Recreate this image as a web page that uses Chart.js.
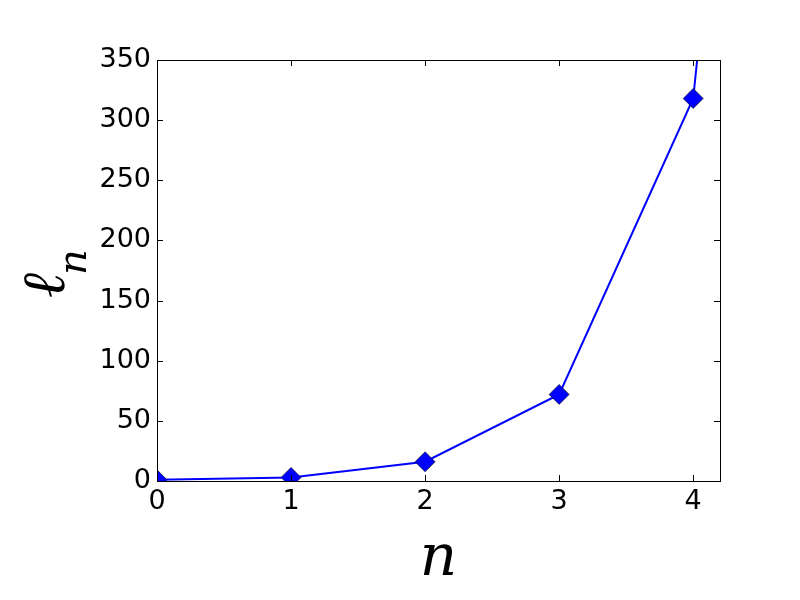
<!DOCTYPE html>
<html>
<head>
<meta charset="utf-8">
<script src="https://cdn.jsdelivr.net/npm/chart.js@4.4.0/dist/chart.umd.min.js"></script>
<style>
  html, body { margin: 0; padding: 0; background: #ffffff; }
  #wrap { width: 800px; height: 600px; }
</style>
</head>
<body>
<div id="wrap"><canvas id="lengthChart" width="800" height="600"></canvas></div>
<script>
// Data
const nValues = [0, 1, 2, 3, 4, 5];
const ellValues = [1, 3, 16, 72, 318, 1400];
const xTickValues = [0, 1, 2, 3, 4];
const yTickValues = [0, 50, 100, 150, 200, 250, 300, 350];

const tickFont = { family: 'DejaVu Sans', size: 27 };

// Frame, inward ticks on all four sides, and math-style axis titles
const matplotlibFrame = {
    id: 'matplotlibFrame',
    afterDatasetsDraw(chart) {
        const ctx = chart.ctx;
        const area = chart.chartArea;
        const xs = chart.scales.x;
        const ys = chart.scales.y;
        const tick = 6;
        ctx.save();
        ctx.strokeStyle = '#000000';
        ctx.lineWidth = 1;
        ctx.beginPath();
        xTickValues.forEach(v => {
            const px = Math.round(xs.getPixelForValue(v)) + 0.5;
            ctx.moveTo(px, area.bottom);
            ctx.lineTo(px, area.bottom - tick);
            ctx.moveTo(px, area.top);
            ctx.lineTo(px, area.top + tick);
        });
        yTickValues.forEach(v => {
            const py = Math.round(ys.getPixelForValue(v)) + 0.5;
            ctx.moveTo(area.left, py);
            ctx.lineTo(area.left + tick, py);
            ctx.moveTo(area.right, py);
            ctx.lineTo(area.right - tick, py);
        });
        ctx.stroke();
        ctx.strokeRect(Math.round(area.left) + 0.5, Math.round(area.top) + 0.5,
            Math.round(area.right - area.left), Math.round(area.bottom - area.top));
        ctx.restore();
    },
    afterDraw(chart) {
        const ctx = chart.ctx;
        const area = chart.chartArea;
        ctx.save();
        ctx.fillStyle = '#000000';
        // x title: n
        ctx.font = 'italic 58px "DejaVu Serif"';
        ctx.textAlign = 'center';
        ctx.textBaseline = 'alphabetic';
        ctx.fillText('n', (area.left + area.right) / 2, 575);
        // y title: l with subscript n, rotated
        ctx.translate(64, 268);
        ctx.rotate(-Math.PI / 2);
        ctx.textAlign = 'left';
        ctx.font = 'italic 60px "DejaVu Serif"';
        const w = ctx.measureText('\u2113').width;
        ctx.fillText('\u2113', -30, 0);
        ctx.font = 'italic 40px "DejaVu Serif"';
        ctx.fillText('n', -30 + w - 2, 22);
        ctx.restore();
    }
};

const ctx = document.getElementById('lengthChart').getContext('2d');
const chart = new Chart(ctx, {
    type: 'line',
    data: {
        datasets: [{
            data: nValues.map((n, i) => ({ x: n, y: ellValues[i] })),
            borderColor: '#0000ff',
            borderWidth: 2,
            backgroundColor: '#0000ff',
            pointStyle: 'rectRot',
            pointRadius: 10,
            pointBorderColor: '#000000',
            pointBorderWidth: 0.6,
            pointBackgroundColor: '#0000ff',
            tension: 0,
            fill: false
        }]
    },
    options: {
        responsive: false,
        animation: false,
        layout: { padding: { left: 0, top: 60, right: 80, bottom: 0 } },
        plugins: {
            legend: { display: false },
            tooltip: { enabled: false }
        },
        scales: {
            x: {
                type: 'linear',
                min: 0,
                max: 4.2,
                afterBuildTicks: scale => { scale.ticks = xTickValues.map(v => ({ value: v })); },
                afterFit: scale => { scale.height = 119; },
                grid: { display: false, drawTicks: false },
                border: { display: false },
                ticks: { color: '#000000', font: tickFont, padding: 5, maxRotation: 0 }
            },
            y: {
                type: 'linear',
                min: 0,
                max: 350,
                afterBuildTicks: scale => { scale.ticks = yTickValues.map(v => ({ value: v })); },
                afterFit: scale => { scale.width = 157; },
                grid: { display: false, drawTicks: false },
                border: { display: false },
                ticks: { color: '#000000', font: tickFont, padding: 6 }
            }
        }
    },
    plugins: [matplotlibFrame]
});
</script>
</body>
</html>
